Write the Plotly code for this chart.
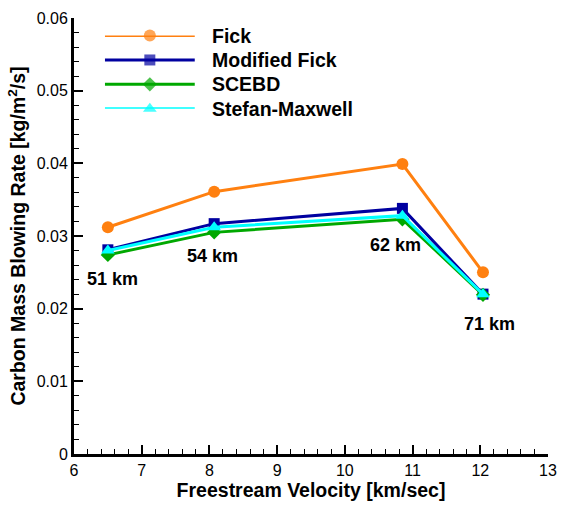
import plotly.graph_objects as go

# ---------------- data ----------------
velocity = [6.5, 8.07, 10.85, 12.04]          # km/sec
altitude_labels = ["51 km", "54 km", "62 km", "71 km"]
label_x = [6.57, 8.05, 10.75, 12.14]
label_y = [0.0241, 0.0273, 0.0287, 0.0179]

series_names = ["Fick", "Modified Fick", "SCEBD", "Stefan-Maxwell"]
fick = [0.0312, 0.0361, 0.0399, 0.0250]
modified_fick = [0.0281, 0.0317, 0.0338, 0.0220]
scebd = [0.0274, 0.0305, 0.0323, 0.0219]
stefan_maxwell = [0.0280, 0.0312, 0.0328, 0.0220]
series_values = [fick, modified_fick, scebd, stefan_maxwell]

colors = ["#FF8010", "#0000A0", "#00A800", "#00FFFF"]
symbols = ["circle", "square", "diamond", "triangle-up"]
sizes = [12, 11, 11, 12]

FONT = "Liberation Sans, Arial, sans-serif"

fig = go.Figure()

for name, vals, c, s, sz in zip(series_names, series_values, colors, symbols, sizes):
    fig.add_trace(go.Scatter(
        x=velocity, y=vals, name=name, mode="lines+markers",
        line=dict(color=c, width=3),
        marker=dict(symbol=s, size=sz, color=c, line=dict(width=0)),
        showlegend=False, cliponaxis=False,
    ))

# custom legend (long line samples with marker in the middle)
n = len(series_names)
for i, (name, c, s, sz) in enumerate(zip(series_names, colors, symbols, sizes)):
    row = n - 1 - i
    fig.add_trace(go.Scatter(
        x=[0, 0.5, 1], y=[row, row, row], mode="lines+markers",
        line=dict(color=c, width=3),
        marker=dict(symbol=s, size=[0, sz, 0], color=c, line=dict(width=0)),
        xaxis="x2", yaxis="y2", showlegend=False, cliponaxis=False,
        hoverinfo="skip",
    ))

annotations = []
for lx, ly, txt in zip(label_x, label_y, altitude_labels):
    annotations.append(dict(
        x=lx, y=ly, xref="x", yref="y", text="<b>%s</b>" % txt,
        showarrow=False, font=dict(family=FONT, size=18, color="black"),
        xanchor="center", yanchor="middle",
    ))

# legend texts
ly_top, ly_bot = 0.9596, 0.792
for i, name in enumerate(series_names):
    row = n - 1 - i
    yp = ly_bot + (ly_top - ly_bot) * row / (n - 1)
    annotations.append(dict(
        x=0.287, y=yp, xref="paper", yref="paper", text="<b>%s</b>" % name,
        showarrow=False, font=dict(family=FONT, size=19.5, color="black"),
        xanchor="left", yanchor="middle",
    ))

fig.update_layout(
    width=566, height=506,
    margin=dict(l=74, r=9, t=18, b=50),
    paper_bgcolor="white", plot_bgcolor="white",
    font=dict(family=FONT, color="black"),
    annotations=annotations,
    xaxis=dict(
        range=[6, 13], dtick=1, tick0=6,
        showgrid=False, zeroline=False,
        showline=True, linecolor="black", linewidth=3,
        ticks="inside", ticklen=9, tickwidth=2, tickcolor="black",
        minor=dict(dtick=0.2, ticks="inside", ticklen=5, tickwidth=1, tickcolor="black", showgrid=False),
        tickfont=dict(family=FONT, size=16, color="black"),
        title=dict(text="<b>Freestream Velocity [km/sec]</b>",
                   font=dict(family=FONT, size=19.5, color="black"), standoff=4),
    ),
    yaxis=dict(
        range=[0, 0.06], dtick=0.01, tick0=0,
        showgrid=False, zeroline=False,
        showline=True, linecolor="black", linewidth=3,
        ticks="inside", ticklen=9, tickwidth=2, tickcolor="black",
        minor=dict(dtick=0.002, ticks="inside", ticklen=5, tickwidth=1, tickcolor="black", showgrid=False),
        tickfont=dict(family=FONT, size=16, color="black"),
        title=dict(text="<b>Carbon Mass Blowing Rate [kg/m<sup>2</sup>/s]</b>",
                   font=dict(family=FONT, size=19.5, color="black"), standoff=6),
    ),
    xaxis2=dict(domain=[0.065, 0.255], range=[0, 1], visible=False, anchor="y2"),
    yaxis2=dict(domain=[ly_bot, ly_top], range=[0, n - 1], visible=False, anchor="x2"),
)

fig.write_html("out.html")
